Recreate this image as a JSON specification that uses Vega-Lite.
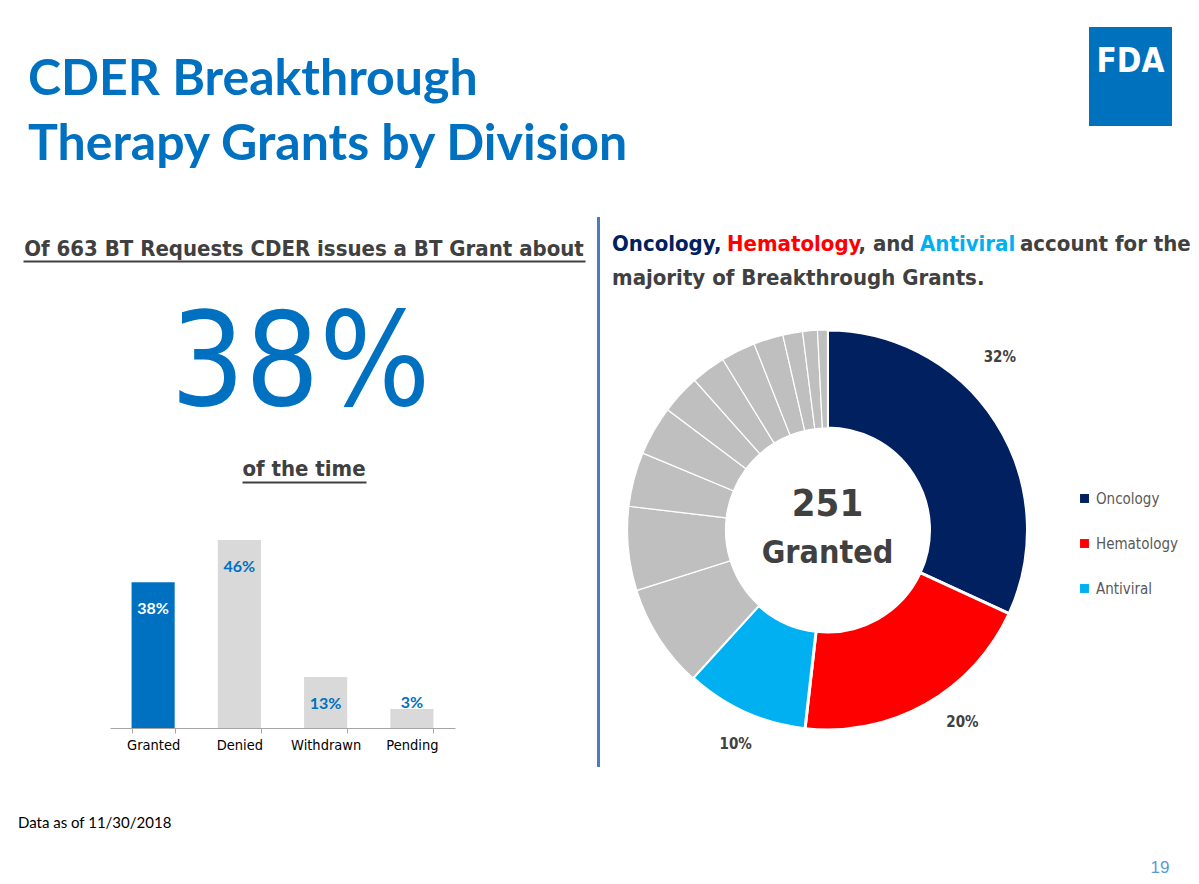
{
  "$schema": "https://vega.github.io/schema/vega-lite/v6.json",
  "padding": {"top": 27, "left": 0, "right": 0, "bottom": 0},
  "background": "white",
  "spacing": 0,
  "config": {"view": {"stroke": null}, "concat": {"spacing": 0}, "font": "DejaVu Sans Condensed, Roboto, sans-serif"},
  "vconcat": [
    {
      "spacing": 0,
      "hconcat": [
        {
          "width": 1089, "height": 190,
          "data": {"values": [{}]},
          "mark": {"type": "text", "text": ["CDER Breakthrough", "Therapy Grants by Division"], "font": "Lato", "fontWeight": "bold", "fontSize": 50, "color": "#0070C0", "align": "left", "baseline": "alphabetic", "lineHeight": 65, "dx": -516.5, "dy": -27},
          "encoding": {}
        },
        {
          "width": 83, "height": 99,
          "data": {"values": [{}]},
          "layer": [
            {"mark": {"type": "rect", "color": "#0071BC"}, "encoding": {}},
            {"mark": {"type": "text", "text": "FDA", "color": "white", "fontWeight": "bold", "fontSize": 33, "baseline": "alphabetic", "dy": -4.5}, "encoding": {}}
          ]
        }
      ]
    },
    {
      "spacing": 0,
      "hconcat": [
        {
          "spacing": 0,
          "vconcat": [
            {
              "spacing": 0,
              "hconcat": [
                {"width": 23, "height": 44, "data": {"values": [{}]}, "mark": {"type": "rect", "opacity": 0}, "encoding": {}},
                {
                  "width": 562, "height": 44,
                  "data": {"values": [{}]},
                  "mark": {"type": "text", "text": "Of 663 BT Requests CDER issues a BT Grant about", "fontSize": 22, "fontWeight": "bold", "color": "#404040", "baseline": "alphabetic", "dy": 17},
                  "encoding": {"x": {"datum": 0, "type": "quantitative", "scale": {"domain": [-1, 1]}, "axis": {"domain": true, "domainColor": "#404040", "domainWidth": 2, "ticks": false, "labels": false, "grid": false, "title": null}}}
                },
                {"width": 12, "height": 44, "data": {"values": [{}]}, "mark": {"type": "rect", "opacity": 0}, "encoding": {}}
              ]
            },
            {
              "width": 597, "height": 175,
              "data": {"values": [{}]},
              "mark": {"type": "text", "text": "38%", "fontSize": 130, "color": "#0070C0", "baseline": "alphabetic", "dx": 2, "dy": 56.5},
              "encoding": {}
            },
            {
              "spacing": 0,
              "hconcat": [
                {"width": 242, "height": 46, "data": {"values": [{}]}, "mark": {"type": "rect", "opacity": 0}, "encoding": {}},
                {
                  "width": 124, "height": 46,
                  "data": {"values": [{}]},
                  "mark": {"type": "text", "text": "of the time", "fontSize": 22, "fontWeight": "bold", "color": "#404040", "baseline": "alphabetic", "dy": 16.5},
                  "encoding": {"x": {"datum": 0, "type": "quantitative", "scale": {"domain": [-1, 1]}, "axis": {"domain": true, "domainColor": "#404040", "domainWidth": 2, "ticks": false, "labels": false, "grid": false, "title": null}}}
                }
              ]
            },
            {
              "spacing": 0,
              "hconcat": [
                {"width": 110, "height": 246, "data": {"values": [{}]}, "mark": {"type": "rect", "opacity": 0}, "encoding": {}},
                {
                  "width": 345, "height": 246,
                  "data": {"values": [
                    {"status": "Granted", "pct": 37.8, "label": "38%"},
                    {"status": "Denied", "pct": 48.7, "label": "46%"},
                    {"status": "Withdrawn", "pct": 13.2, "label": "13%"},
                    {"status": "Pending", "pct": 4.9, "label": "3%"}
                  ]},
                  "encoding": {
                    "x": {"field": "status", "type": "nominal", "sort": null, "scale": {"paddingInner": 0.5, "paddingOuter": 0.25},
                      "axis": {"title": null, "labelAngle": 0, "tickBand": "extent", "domainColor": "#A6A6A6", "tickColor": "#A6A6A6", "tickSize": 5, "labelFontSize": 14.5, "labelColor": "#000000", "labelPadding": 5, "grid": false}},
                    "y": {"field": "pct", "type": "quantitative", "scale": {"domain": [0, 63.75], "nice": false}, "axis": null}
                  },
                  "layer": [
                    {"mark": {"type": "bar"}, "encoding": {"color": {"condition": {"test": "datum.status === 'Granted'", "value": "#0070C0"}, "value": "#D9D9D9"}}},
                    {"transform": [{"filter": "datum.pct >= 10"}], "mark": {"type": "text", "font": "Lato", "fontWeight": "bold", "fontSize": 16, "baseline": "middle", "dy": 26.5},
                      "encoding": {"text": {"field": "label"}, "color": {"condition": {"test": "datum.status === 'Granted'", "value": "#ffffff"}, "value": "#0070C0"}}},
                    {"transform": [{"filter": "datum.pct < 10"}], "mark": {"type": "text", "font": "Lato", "fontWeight": "bold", "fontSize": 16, "baseline": "middle", "dy": -6, "color": "#0070C0"},
                      "encoding": {"text": {"field": "label"}}}
                  ]
                },
                {"width": 142, "height": 246, "data": {"values": [{}]}, "mark": {"type": "rect", "opacity": 0}, "encoding": {}}
              ]
            }
          ]
        },
        {"width": 3, "height": 550, "data": {"values": [{}]}, "mark": {"type": "rect", "color": "#4A7EBB"}, "encoding": {}},
        {
          "spacing": 0,
          "vconcat": [
            {
              "width": 599, "height": 83,
              "data": {"values": [{}]},
              "layer": [
                {"mark": {"type": "text", "text": "Oncology,", "fontSize": 22, "fontWeight": "bold", "color": "#002060", "align": "left", "baseline": "alphabetic", "dx": -287.5, "dy": -7.5}, "encoding": {}},
                {"mark": {"type": "text", "text": "Hematology", "fontSize": 22, "fontWeight": "bold", "color": "#FF0000", "align": "left", "baseline": "alphabetic", "dx": -172.5, "dy": -7.5}, "encoding": {}},
                {"mark": {"type": "text", "text": ", and", "fontSize": 22, "fontWeight": "bold", "color": "#404040", "align": "left", "baseline": "alphabetic", "dx": -41, "dy": -7.5}, "encoding": {}},
                {"mark": {"type": "text", "text": "Antiviral", "fontSize": 22, "fontWeight": "bold", "color": "#00B0F0", "align": "left", "baseline": "alphabetic", "dx": 20.5, "dy": -7.5}, "encoding": {}},
                {"mark": {"type": "text", "text": "account  for the", "fontSize": 22, "fontWeight": "bold", "color": "#404040", "align": "left", "baseline": "alphabetic", "dx": 120.5, "dy": -7.5}, "encoding": {}},
                {"mark": {"type": "text", "text": "majority of Breakthrough Grants.", "fontSize": 22, "fontWeight": "bold", "color": "#404040", "align": "left", "baseline": "alphabetic", "dx": -287.5, "dy": 26.5}, "encoding": {}}
              ]
            },
            {
              "width": 455, "height": 460,
              "data": {"values": [
                {"division": "Oncology", "group": "Oncology", "count": 80, "ord": 1, "label": "32%"},
                {"division": "Hematology", "group": "Hematology", "count": 50, "ord": 2, "label": "20%"},
                {"division": "Antiviral", "group": "Antiviral", "count": 25, "ord": 3, "label": "10%"},
                {"division": "Other 1", "group": "Other", "count": 21, "ord": 4, "label": ""},
                {"division": "Other 2", "group": "Other", "count": 17, "ord": 5, "label": ""},
                {"division": "Other 3", "group": "Other", "count": 11, "ord": 6, "label": ""},
                {"division": "Other 4", "group": "Other", "count": 10, "ord": 7, "label": ""},
                {"division": "Other 5", "group": "Other", "count": 8, "ord": 8, "label": ""},
                {"division": "Other 6", "group": "Other", "count": 7, "ord": 9, "label": ""},
                {"division": "Other 7", "group": "Other", "count": 7, "ord": 10, "label": ""},
                {"division": "Other 8", "group": "Other", "count": 6, "ord": 11, "label": ""},
                {"division": "Other 9", "group": "Other", "count": 4, "ord": 12, "label": ""},
                {"division": "Other 10", "group": "Other", "count": 3, "ord": 13, "label": ""},
                {"division": "Other 11", "group": "Other", "count": 2, "ord": 14, "label": ""}
              ]},
              "layer": [
                {
                  "mark": {"type": "arc", "innerRadius": 102, "outerRadius": 200, "stroke": "#ffffff"},
                  "encoding": {
                    "theta": {"field": "count", "type": "quantitative", "stack": true},
                    "order": {"field": "ord", "type": "quantitative"},
                    "color": {"field": "group", "type": "nominal",
                      "scale": {"domain": ["Oncology", "Hematology", "Antiviral", "Other"], "range": ["#002060", "#FF0000", "#00B0F0", "#BFBFBF"]},
                      "legend": {"values": ["Oncology", "Hematology", "Antiviral"], "title": null, "orient": "none", "legendX": 1077, "legendY": 464, "symbolType": "square", "symbolSize": 80, "symbolStrokeWidth": 0, "labelFontSize": 15, "labelColor": "#595959", "rowPadding": 29, "labelOffset": 4}},
                    "strokeWidth": {"condition": {"test": "datum.group !== 'Other'", "value": 3}, "value": 1.2}
                  }
                },
                {
                  "transform": [{"filter": "datum.ord <= 1"}],
                  "mark": {"type": "text", "radius": 232, "fontSize": 15, "fontWeight": "bold", "color": "#404040", "dx": -23, "dy": -48},
                  "encoding": {
                    "theta": {"field": "count", "type": "quantitative", "stack": true},
                    "order": {"field": "ord", "type": "quantitative"},
                    "text": {"field": "label"}
                  }
                },
                {
                  "transform": [{"filter": "datum.ord <= 2"}],
                  "mark": {"type": "text", "radius": 232, "fontSize": 15, "fontWeight": "bold", "color": "#404040", "dx": 21, "dy": -10},
                  "encoding": {
                    "theta": {"field": "count", "type": "quantitative", "stack": true},
                    "order": {"field": "ord", "type": "quantitative"},
                    "text": {"condition": {"test": "datum.group === 'Hematology'", "field": "label"}, "value": ""}
                  }
                },
                {
                  "transform": [{"filter": "datum.ord <= 3"}],
                  "mark": {"type": "text", "radius": 232, "fontSize": 15, "fontWeight": "bold", "color": "#404040", "dx": 4, "dy": 3},
                  "encoding": {
                    "theta": {"field": "count", "type": "quantitative", "stack": true},
                    "order": {"field": "ord", "type": "quantitative"},
                    "text": {"condition": {"test": "datum.group === 'Antiviral'", "field": "label"}, "value": ""}
                  }
                },
                {
                  "data": {"values": [{}]},
                  "mark": {"type": "text", "text": "251", "fontSize": 38, "fontWeight": "bold", "color": "#404040", "baseline": "middle", "dy": -25},
                  "encoding": {}
                },
                {
                  "data": {"values": [{}]},
                  "mark": {"type": "text", "text": "Granted", "fontSize": 32, "fontWeight": "bold", "color": "#404040", "baseline": "middle", "dy": 23},
                  "encoding": {}
                }
              ]
            }
          ]
        }
      ]
    },
    {
      "width": 1199, "height": 117,
      "data": {"values": [{}]},
      "layer": [
        {"mark": {"type": "text", "text": "Data as of  11/30/2018", "font": "Lato", "fontSize": 15, "color": "#000000", "align": "left", "baseline": "middle", "dx": -581.5, "dy": -2.5}, "encoding": {}},
        {"mark": {"type": "text", "text": "19", "font": "Liberation Sans", "fontSize": 17, "color": "#5B9BD5", "baseline": "middle", "dx": 560.5, "dy": 42.5}, "encoding": {}}
      ]
    }
  ]
}
